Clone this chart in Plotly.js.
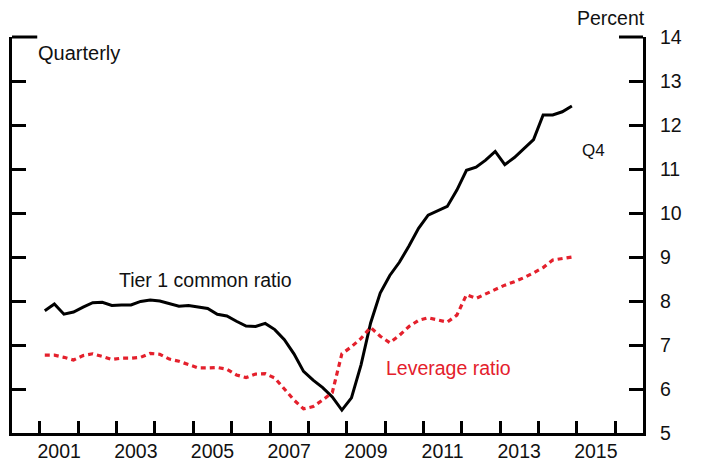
<!DOCTYPE html>
<html>
<head>
<meta charset="utf-8">
<script src="https://cdn.plot.ly/plotly-3.0.1.min.js"></script>
<style>
  html, body { margin: 0; padding: 0; background: #ffffff; }
  #chart { width: 701px; height: 473px; }
</style>
</head>
<body>
<div id="chart"></div>
<script>
// Quarterly observations, 2001Q1 .. 2014Q4
const startYear = 2001;
const endYear = 2014;

const tier1CommonRatio = [
  7.78, 7.93, 7.70, 7.75,
  7.86, 7.96, 7.97, 7.90,
  7.91, 7.91, 7.99, 8.02,
  8.00, 7.94, 7.88, 7.90,
  7.87, 7.83, 7.70, 7.66,
  7.54, 7.43, 7.42, 7.49,
  7.35, 7.12, 6.80, 6.40,
  6.20, 6.03, 5.82, 5.52,
  5.80, 6.55, 7.50, 8.18,
  8.58, 8.88, 9.25, 9.65,
  9.95, 10.05, 10.15, 10.52,
  10.97, 11.04, 11.20, 11.40,
  11.10, 11.26, 11.47, 11.67,
  12.23, 12.23, 12.30, 12.43
];

const leverageRatio = [
  6.77, 6.77, 6.72, 6.66,
  6.76, 6.80, 6.74, 6.67,
  6.70, 6.70, 6.72, 6.81,
  6.79, 6.68, 6.63, 6.56,
  6.48, 6.48, 6.49, 6.45,
  6.32, 6.26, 6.34, 6.35,
  6.25, 6.00, 5.75, 5.55,
  5.60, 5.75, 5.92, 6.80,
  6.96, 7.15, 7.40, 7.20,
  7.05, 7.22, 7.42, 7.56,
  7.62, 7.57, 7.52, 7.68,
  8.14, 8.06, 8.16, 8.27,
  8.36, 8.44, 8.53, 8.64,
  8.76, 8.93, 8.97, 9.00
];

const yearTicks = [2001, 2002, 2003, 2004, 2005, 2006, 2007, 2008, 2009, 2010, 2011, 2012, 2013, 2014, 2015, 2016];
const yearLabels = ['2001', '2003', '2005', '2007', '2009', '2011', '2013', '2015'];
const yTicks = [5, 6, 7, 8, 9, 10, 11, 12, 13, 14];

// quarter mid-points in decimal years
const quarters = [];
for (let y = startYear; y <= endYear; y++) {
  for (let q = 0; q < 4; q++) quarters.push(y + 0.125 + 0.25 * q);
}
const labelPositions = yearLabels.map(s => Number(s) + 0.5);

const xRange = [2000.27, 2016.73];
const yRange = [5, 14];
const font = 'Liberation Sans, Arial, sans-serif';

const traces = [
  {
    x: quarters, y: tier1CommonRatio, type: 'scatter', mode: 'lines',
    line: { color: '#000000', width: 3 }, hoverinfo: 'skip', showlegend: false
  },
  {
    x: quarters, y: leverageRatio, type: 'scatter', mode: 'lines',
    line: { color: '#e4202c', width: 3.2, dash: '5px,4px' }, hoverinfo: 'skip', showlegend: false
  }
];

const layout = {
  width: 701, height: 473,
  margin: { l: 12, r: 58, t: 37, b: 40 },
  paper_bgcolor: '#ffffff', plot_bgcolor: '#ffffff',
  font: { family: font, size: 19, color: '#111111' },
  showlegend: false,
  xaxis: {
    range: xRange, tickvals: yearTicks, ticktext: yearTicks.map(() => ''),
    ticks: 'inside', ticklen: 12, tickwidth: 3, tickcolor: '#000',
    showline: true, linewidth: 3, linecolor: '#000',
    showgrid: false, zeroline: false, fixedrange: true
  },
  xaxis2: {
    overlaying: 'x', anchor: 'y', side: 'bottom', range: xRange,
    tickvals: labelPositions, ticktext: yearLabels, ticks: '',
    showline: false, showgrid: false, zeroline: false,
    tickfont: { family: font, size: 19.5, color: '#111' }, ticklabelstandoff: 4
  },
  yaxis: {
    range: yRange, side: 'right', tickvals: yTicks,
    ticks: 'inside', ticklen: 14, tickwidth: 3, tickcolor: '#000',
    showline: true, linewidth: 3, linecolor: '#000',
    showgrid: false, zeroline: false, fixedrange: true,
    tickfont: { family: font, size: 19.5, color: '#111' }, ticklabelstandoff: 10
  },
  yaxis2: {
    overlaying: 'y', side: 'left', range: yRange, tickvals: yTicks,
    ticks: 'inside', ticklen: 14, tickwidth: 3, tickcolor: '#000',
    showline: true, linewidth: 3, linecolor: '#000',
    showticklabels: false, showgrid: false, zeroline: false
  },
  shapes: [
    // longer bracket ticks at the top of both vertical axes
    { type: 'line', xref: 'paper', yref: 'paper', x0: 0, x1: 0.04, y0: 1, y1: 1,
      line: { color: '#000', width: 3 } },
    { type: 'line', xref: 'paper', yref: 'paper', x0: 0.962, x1: 1, y0: 1, y1: 1,
      line: { color: '#000', width: 3 } }
  ],
  annotations: [
    { text: 'Quarterly', xref: 'paper', yref: 'paper', x: 0.038, y: 0.96,
      xanchor: 'left', yanchor: 'middle', showarrow: false, font: { family: font, size: 20, color: '#111' } },
    { text: 'Percent', xref: 'paper', yref: 'paper', x: 0.949, y: 1.048,
      xanchor: 'center', yanchor: 'middle', showarrow: false, font: { family: font, size: 19.5, color: '#111' } },
    { text: 'Tier 1 common ratio', xref: 'x', yref: 'y', x: 2005.33, y: 8.48,
      xanchor: 'center', yanchor: 'middle', showarrow: false, font: { family: font, size: 19.5, color: '#111' } },
    { text: 'Leverage ratio', xref: 'x', yref: 'y', x: 2011.645, y: 6.48,
      xanchor: 'center', yanchor: 'middle', showarrow: false, font: { family: font, size: 19.5, color: '#e4202c' } },
    { text: 'Q4', xref: 'x', yref: 'y', x: 2015.45, y: 11.41,
      xanchor: 'center', yanchor: 'middle', showarrow: false, font: { family: font, size: 17, color: '#111' } }
  ]
};

// invisible trace so that the overlay axes x2 / y2 are drawn
traces.push({ x: [xRange[0]], y: [yRange[0]], xaxis: 'x2', yaxis: 'y2', type: 'scatter', mode: 'markers',
  marker: { opacity: 0 }, hoverinfo: 'skip', showlegend: false });

Plotly.newPlot('chart', traces, layout, { staticPlot: true, displayModeBar: false });
</script>
</body>
</html>
